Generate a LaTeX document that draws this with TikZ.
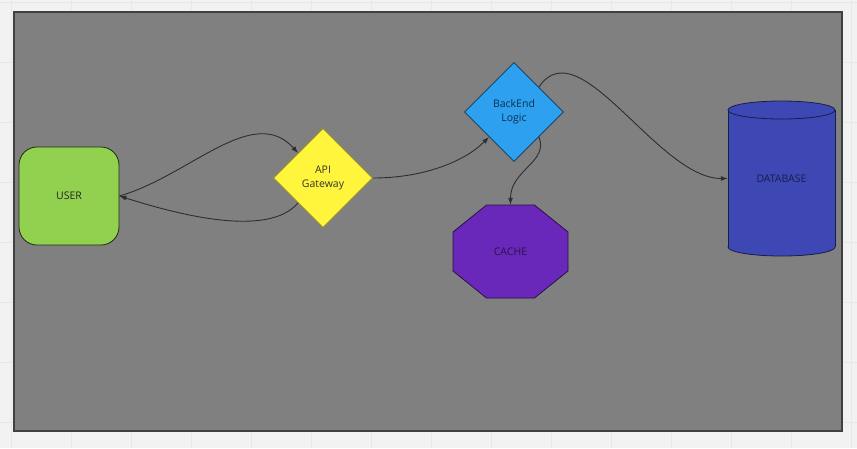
\documentclass[tikz,border=0pt]{standalone}
\usepackage{fontspec}
\setmainfont{Open Sans}
\usepackage{tikz}
\usetikzlibrary{shapes,arrows.meta,calc}

\definecolor{canvasbg}{RGB}{242,242,242}
\definecolor{gridline}{RGB}{232,232,232}
\definecolor{panelgray}{RGB}{128,128,128}
\definecolor{usergreen}{RGB}{146,208,80}
\definecolor{apiyellow}{RGB}{255,245,60}
\definecolor{logicblue}{RGB}{45,160,240}
\definecolor{cachepurple}{RGB}{105,40,185}
\definecolor{dbblue}{RGB}{62,72,180}

\tikzset{
  link/.style={draw=black!82, line width=0.9pt, -{Latex[length=7pt,width=5pt]}},
  label/.style={font=\fontsize{10.5}{14}\selectfont, align=center},
  decision/.style={diamond, label, line width=0.8pt, minimum width=99pt, minimum height=99pt, inner sep=0pt},
  holder/.style={rectangle, draw=none, label, inner sep=0pt},
}

\begin{document}
\begin{tikzpicture}[x=1pt,y=-1pt]
  \useasboundingbox (0,0) rectangle (857,448);
  \fill[canvasbg] (0,0) rectangle (857,448);
  \foreach \gx in {11,71,...,851} \draw[gridline] (\gx,0) -- (\gx,448);
  \foreach \gy in {2,62,...,422} \draw[gridline] (0,\gy) -- (857,\gy);

  % panel
  \draw[fill=panelgray, draw=black!75, line width=1.3pt] (14,12) rectangle (842,431);

  % nodes
  \node[holder, rounded corners=18pt, draw=black!80!usergreen, line width=0.8pt, fill=usergreen,
        minimum width=100pt, minimum height=98pt, text=black!85] (user) at (69,196) {USER};
  \node[decision, draw=black!40!apiyellow, fill=apiyellow, text=black!80] (api) at (323,178) {API\\Gateway};
  \node[decision, draw=black!65!logicblue, fill=logicblue, text=black!70!logicblue] (logic) at (514,112) {BackEnd\\Logic};

  % cache (octagon)
  \filldraw[fill=cachepurple, draw=black!60!cachepurple, line width=0.8pt]
    (486.5,205) -- (534.5,205) -- (568,232) -- (568,271) -- (534.5,298) -- (486.5,298) -- (453,271) -- (453,232) -- cycle;
  \node[holder, minimum width=115pt, minimum height=93pt, text=black!60!cachepurple] (cache) at (510.5,251.5) {CACHE};

  % database (cylinder)
  \filldraw[fill=dbblue, draw=black!60!dbblue, line width=0.8pt] (781.5,247) ellipse [x radius=53.5, y radius=9];
  \fill[dbblue] (728,110) rectangle (835,247);
  \draw[black!60!dbblue, line width=0.8pt] (728,110) -- (728,247) (835,110) -- (835,247);
  \filldraw[fill=dbblue, draw=black!60!dbblue, line width=0.8pt] (781.5,110) ellipse [x radius=53.5, y radius=9];
  \node[holder, minimum width=107pt, minimum height=155pt, text=black!60!dbblue] (db) at (781.5,178.5) {DATABASE};

  % connectors
  \draw[link] (user.east) .. controls ($(user.east)+(70,-20)$) and ($(api.north west)+(-45,-50)$) .. (api.north west);
  \draw[link] (api.south west) .. controls ($(api.south west)+(-30,35)$) and ($(user.east)+(60,19)$) .. (user.east);
  \draw[link] (api.east) .. controls ($(api.east)+(50,0)$) and ($(logic.south west)+(-25,25)$) .. (logic.south west);
  \draw[link] (logic.south east) .. controls ($(logic.south east)+(10,25)$) and ($(cache.north)+(0,-35)$) .. (cache.north);
  \draw[link] (logic.north east) .. controls ($(logic.north east)+(40,-60)$) and ($(db.west)+(-70,0)$) .. (db.west);
\end{tikzpicture}
\end{document}
